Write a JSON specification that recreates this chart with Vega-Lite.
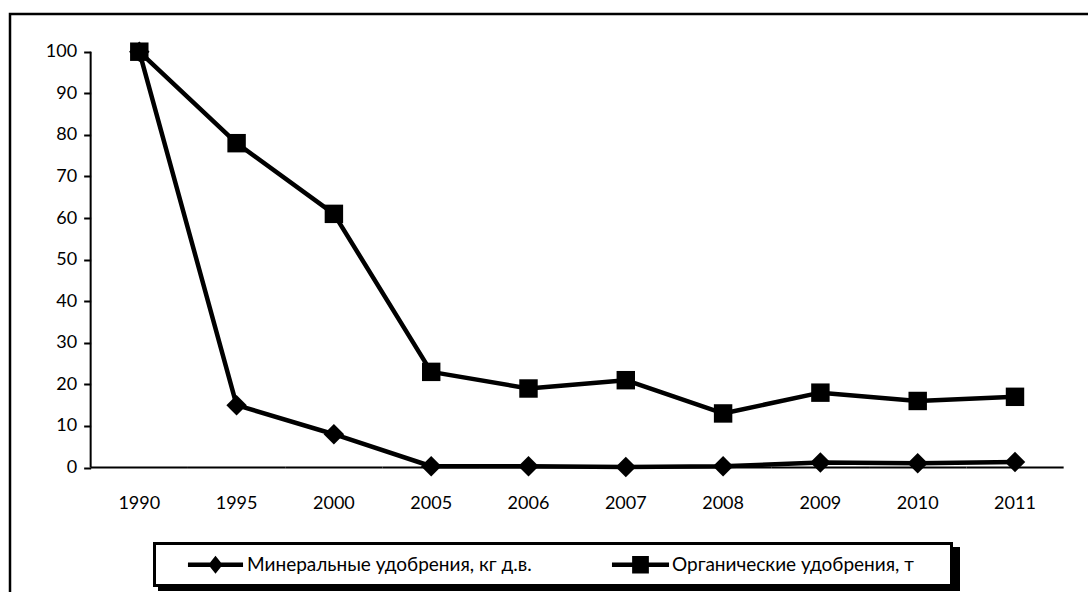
{
  "$schema": "https://vega.github.io/schema/vega-lite/v6.json",
  "autosize": {"type": "none"},
  "padding": {"left": 10, "top": 14, "right": -4, "bottom": -10},
  "width": 1082,
  "height": 588,
  "background": "white",
  "config": {
    "view": {"stroke": "black", "strokeWidth": 2.5, "fill": "white"},
    "font": "Lato"
  },
  "data": {
    "values": [
      {"year": "1990", "series": "Минеральные удобрения, кг д.в.", "value": 100},
      {"year": "1995", "series": "Минеральные удобрения, кг д.в.", "value": 15},
      {"year": "2000", "series": "Минеральные удобрения, кг д.в.", "value": 8},
      {"year": "2005", "series": "Минеральные удобрения, кг д.в.", "value": 0.3},
      {"year": "2006", "series": "Минеральные удобрения, кг д.в.", "value": 0.3},
      {"year": "2007", "series": "Минеральные удобрения, кг д.в.", "value": 0.1},
      {"year": "2008", "series": "Минеральные удобрения, кг д.в.", "value": 0.3},
      {"year": "2009", "series": "Минеральные удобрения, кг д.в.", "value": 1.2},
      {"year": "2010", "series": "Минеральные удобрения, кг д.в.", "value": 1.0},
      {"year": "2011", "series": "Минеральные удобрения, кг д.в.", "value": 1.3},
      {"year": "1990", "series": "Органические удобрения, т", "value": 100},
      {"year": "1995", "series": "Органические удобрения, т", "value": 78},
      {"year": "2000", "series": "Органические удобрения, т", "value": 61},
      {"year": "2005", "series": "Органические удобрения, т", "value": 23},
      {"year": "2006", "series": "Органические удобрения, т", "value": 19},
      {"year": "2007", "series": "Органические удобрения, т", "value": 21},
      {"year": "2008", "series": "Органические удобрения, т", "value": 13},
      {"year": "2009", "series": "Органические удобрения, т", "value": 18},
      {"year": "2010", "series": "Органические удобрения, т", "value": 16},
      {"year": "2011", "series": "Органические удобрения, т", "value": 17}
    ]
  },
  "encoding": {
    "x": {
      "field": "year",
      "type": "ordinal",
      "scale": {"type": "band", "paddingInner": 0, "paddingOuter": 0.5601, "align": 0.7399, "round": false},
      "axis": {
        "title": null,
        "domain": false,
        "ticks": false,
        "tickSize": 0,
        "offset": -134.5,
        "labelPadding": 27,
        "labelAngle": 0,
        "labelFont": "Lato",
        "labelFontSize": 18,
        "labelColor": "black",
        "grid": false
      }
    },
    "y": {
      "field": "value",
      "type": "quantitative",
      "scale": {"domain": [-32.347, 109.067], "nice": false, "zero": false},
      "axis": {
        "title": null,
        "domain": false,
        "grid": false,
        "values": [0, 10, 20, 30, 40, 50, 60, 70, 80, 90, 100],
        "offset": -80.65,
        "tickSize": 7,
        "tickWidth": 2,
        "tickColor": "black",
        "labelPadding": 7,
        "labelFont": "Lato",
        "labelFontSize": 18,
        "labelColor": "black"
      }
    }
  },
  "layer": [
    {
      "transform": [{"filter": "datum.series == 'Органические удобрения, т'"}],
      "mark": {"type": "rect", "color": "black", "opacity": 1},
      "encoding": {"y": {"datum": 0.24}, "y2": {"datum": -0.24}}
    },
    {
      "transform": [{"filter": "datum.year == '1990' && datum.series == 'Органические удобрения, т'"}],
      "mark": {"type": "rule", "color": "black", "strokeWidth": 2},
      "encoding": {
        "x": {"field": "year", "type": "ordinal", "bandPosition": 0},
        "y": {"datum": 0},
        "y2": {"datum": 100}
      }
    },
    {
      "mark": {"type": "line", "color": "black", "strokeWidth": 4.5, "strokeJoin": "round"},
      "encoding": {"detail": {"field": "series"}}
    },
    {
      "transform": [{"filter": "datum.series == 'Минеральные удобрения, кг д.в.'"}],
      "mark": {"type": "point", "shape": "diamond", "filled": true, "color": "black", "opacity": 1, "size": 420}
    },
    {
      "transform": [{"filter": "datum.series == 'Органические удобрения, т'"}],
      "mark": {"type": "point", "shape": "square", "filled": true, "color": "black", "opacity": 1, "size": 340}
    },
    {
      "transform": [{"filter": "false"}],
      "mark": {"type": "point", "filled": true, "opacity": 1, "size": 4},
      "encoding": {
        "color": {
          "datum": "frame",
          "type": "nominal",
          "scale": {"range": ["black"]},
          "legend": {
            "orient": "none",
            "legendX": 144,
            "legendY": 529,
            "title": null,
            "padding": 0,
            "symbolOffset": 0,
            "symbolSize": 4,
            "symbolStrokeWidth": 0,
            "symbolType": "M-2,-2L798,-2L798,43L-2,43ZM1,1L1,40L795,40L795,1ZM798,3L805,3L805,47L3,47L3,43L798,43Z",
            "labelExpr": "''",
            "labelFontSize": 1
          }
        }
      }
    },
    {
      "transform": [{"filter": "false"}],
      "mark": {"type": "point", "filled": true, "color": "black", "opacity": 1, "size": 324},
      "encoding": {
        "shape": {
          "field": "series",
          "type": "nominal",
          "scale": {
            "domain": ["Минеральные удобрения, кг д.в.", "Органические удобрения, т"],
            "range": [
              "M-3.06,-0.24L3.06,-0.24L3.06,0.24L-3.06,0.24ZM0,-1.0L0.8,0L0,1.0L-0.8,0Z",
              "M-3.17,-0.24L3.17,-0.24L3.17,0.24L-3.17,0.24ZM-0.93,-0.96L0.93,-0.96L0.93,0.96L-0.93,0.96Z"
            ]
          },
          "legend": {
            "orient": "none",
            "legendX": 144,
            "legendY": 529,
            "direction": "horizontal",
            "title": null,
            "padding": 12,
            "symbolOffset": 40,
            "labelOffset": 22,
            "symbolSize": 324,
            "symbolStrokeWidth": 0,
            "symbolFillColor": "black",
            "symbolStrokeColor": "black",
            "labelFont": "Lato",
            "labelFontSize": 19,
            "labelColor": "black",
            "labelLimit": 600,
            "columnPadding": 59
          }
        }
      }
    }
  ]
}
